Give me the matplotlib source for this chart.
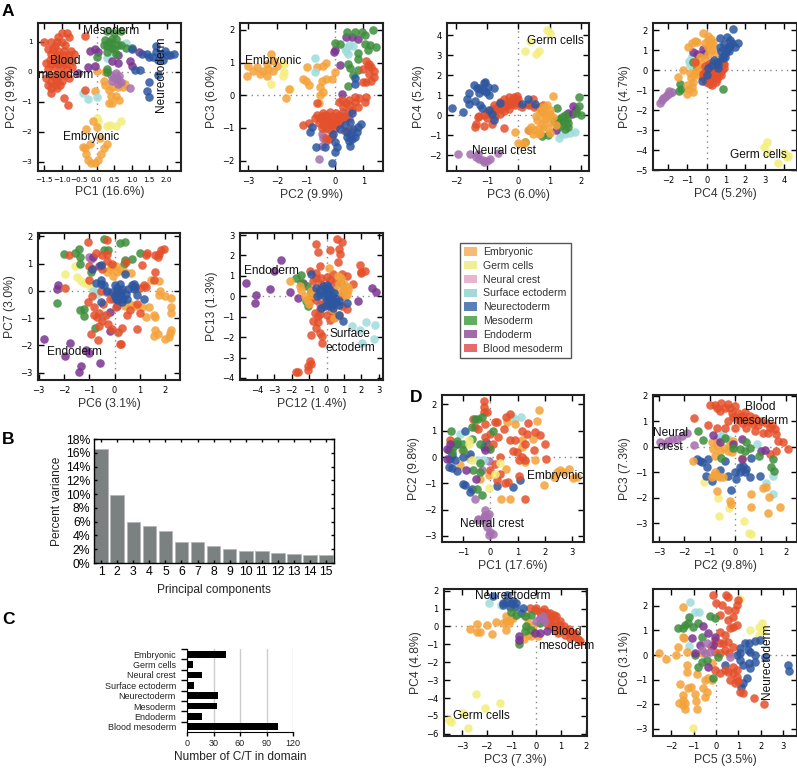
import matplotlib
matplotlib.use('Agg')
import matplotlib.pyplot as plt
from matplotlib.patches import Patch
import numpy as np

plt.rcParams['font.family'] = ['Liberation Sans', 'DejaVu Sans']

W, H = 797, 770

# scatter colours
EMB = '#f4a33a'; GER = '#f4ee7c'; NEU = '#a56fb0'; SUR = '#9fdcdc'
NEC = '#2d56a0'; MES = '#3d8e3c'; END = '#7a3590'; BLO = '#e4502b'

# ---- panel A, PC1 / PC2
A1_EMB = [(0.02,0.03),(0.2,-0.3),(0.25,-0.45),(0.35,-0.6),(0.45,-0.5),(0.6,-0.5),(0.75,-0.5),(0.8,-0.4),(0.4,-0.8),(0.55,-0.8),(0.35,-1.05),(0.45,-1.05),(0.65,-0.95),(-0.05,-0.65),(-0.1,-1.65),(-0.3,-1.9),(0.0,-1.85),(-0.4,-2.5),(-0.35,-2.55),(-0.3,-2.75),(-0.25,-2.95),(-0.15,-3.05),(-0.05,-3.05),(0.05,-2.95),(0.12,-2.75),(0.2,-2.55),(0.3,-2.4),(-0.2,-2.4),(0.1,-2.2),(0.25,0.0)]
A1_GER = [(0,-1.55),(0.28,-1.8),(0.38,-1.78),(0.55,-1.8),(0.68,-1.65),(0.05,-1.65)]
A1_NEU = [(0.4,-0.1),(0.5,-0.2),(0.6,-0.25),(0.65,-0.15),(0.55,-0.05),(0.45,-0.3),(0.7,-0.35),(0.95,-0.55),(0.6,-0.4)]
A1_SUR = [(-0.4,-0.7),(-0.25,-0.92),(0,-0.85),(0.85,0.95),(0.3,0.45),(0.4,0.65)]
A1_NEC = [(1.0,0.75),(1.3,0.6),(1.45,0.6),(1.6,0.5),(1.7,0.65),(1.7,0.85),(1.5,0.5),(1.85,0.6),(2.0,0.55),(2.1,0.55),(2.2,0.6),(1.9,0.4),(1.95,0.7),(1.75,0.4),(1.1,0.05),(1.25,0.05),(1.5,-0.35),(1.45,-0.65),(1.5,-0.85),(1.75,-0.1)]
A1_MES = [(0.3,1.35),(0.5,1.3),(0.7,1.35),(0.25,1.05),(0.35,1.0),(0.45,1.1),(0.55,1.1),(0.3,0.85),(0.45,0.8),(0.6,0.9),(0.7,0.9),(0.85,0.8),(1.0,0.8),(0.3,0.65),(0.55,0.6),(0.3,0.1),(0.02,0.5),(0.3,0.0),(0.4,0.95),(0.5,0.75),(0.2,0.9)]
A1_END = [(-0.05,0.75),(0.05,0.65),(-0.2,0.7),(-0.55,-0.05),(-0.25,0.15),(-0.05,0.2),(0.45,0.35),(0.6,0.3),(0.95,0.35),(1.02,0.2),(1.2,0.65),(0.6,0.55)]
A1_BLO = [(-1.52,1.0),(-1.3,1.0),(-1.1,1.15),(-1.0,1.3),(-0.85,1.3),(-0.8,1.15),(-1.0,1.0),(-0.9,0.9),(-1.2,0.85),(-1.4,0.75),(-1.3,0.6),(-1.1,0.7),(-0.95,0.7),(-0.75,0.7),(-0.65,0.6),(-1.45,0.3),(-1.35,0.4),(-1.2,0.35),(-1.05,0.45),(-0.85,0.4),(-0.7,0.35),(-0.7,0.15),(-1.4,0.1),(-1.2,0.15),(-1.0,0.2),(-0.85,0.1),(-1.35,-0.1),(-1.45,-0.2),(-1.2,-0.1),(-1.05,-0.05),(-0.9,-0.1),(-1.3,-0.35),(-1.15,-0.3),(-1.0,-0.3),(-1.4,-0.45),(-1.3,-0.55),(-1.05,-0.45),(-1.3,-0.7),(-0.95,-0.88),(-0.82,-1.1),(-0.35,1.18),(-0.35,-0.62),(-1.15,1.0),(-1.25,0.75),(-1.15,0.55),(-0.95,0.55),(-0.8,0.55),(-1.3,0.25),(-1.1,0.25),(-0.9,0.25),(-1.2,-0.2),(-1.1,-0.15),(-1.2,-0.45),(-1.15,-0.55),(-0.8,-0.2)]

# ---- PC2 / PC3
A2_EMB = [(-3.05,0.6),(-3.0,0.9),(-2.85,0.75),(-2.7,0.85),(-2.6,0.65),(-2.5,0.75),(-2.35,0.6),(-2.3,0.8),(-2.2,1.25),(-2.1,1.05),(-2.0,0.9),(-2.15,0.75),(-2.35,0.95),(-1.6,0.2),(-1.7,-0.1),(-1.1,0.5),(-1.0,0.45),(-0.95,0.85),(-0.9,0.3),(-0.6,0.85),(-0.4,0.9),(-0.3,1.0),(-0.45,0.45),(-0.5,0.25),(-0.4,0.1),(-0.5,0),(-0.3,0.5),(-0.1,0.5),(0,0.7),(-0.55,-0.25)]
A2_GER = [(-1.8,1.0),(-1.8,0.6),(-2.2,0.35),(-1.75,0.7),(-1.55,0.2),(-1.75,0.95)]
A2_NEU = [(-0.4,-1.3),(-0.45,-1.2),(-0.55,-1.95),(-0.3,-1.4),(-0.45,-1.55),(0.3,-0.5),(0.25,-0.7),(0.1,-0.9),(0.5,-0.7)]
A2_SUR = [(-0.7,1.15),(-0.7,0.7),(0.35,1.45),(0.4,1.35),(0.45,1.25),(0.5,1.55),(0.65,1.5)]
A2_NEC = [(-0.85,-1.12),(-0.8,-0.97),(-0.65,-1.58),(-0.33,-1.58),(0,-1.43),(-0.05,-1.2),(0.07,-1.58),(0,-1.73),(-0.09,-2.07),(0.53,-1.56),(0.18,-1.02),(0.36,-0.92),(0.53,-0.82),(0.65,-1.02),(0.82,-0.97),(0.9,-0.89),(0.42,-1.27),(0.53,-1.22),(0.7,-1.27),(0.6,-0.54),(0.7,0.54),(0.7,0.34),(0.42,-1.12),(0.76,-1.12),(0.6,-1.35),(0.5,-1.4)]
A2_MES = [(0.44,1.94),(0.7,1.94),(0.94,1.92),(1.05,1.84),(1.32,2.0),(0,1.6),(0.18,1.58),(1.05,1.58),(1.23,1.53),(1.43,1.48),(1.17,1.38),(0.82,1.3),(0.82,1.12),(0.47,0.97),(0.53,0.82),(0.82,0.77),(0.62,0.61),(0.47,0.28)]
A2_END = [(0,1.38),(-0.02,1.33),(0.18,0.92),(0.38,1.77),(0.59,1.77),(0.82,1.73),(0.27,0.05)]
A2_BLO = [(1.0,0.8),(1.15,0.9),(1.25,0.85),(1.35,0.75),(1.2,0.65),(1.35,0.55),(1.25,0.45),(1.0,0.4),(1.1,0.4),(1.1,1.05),(0.15,-0.2),(0.25,-0.15),(0.4,-0.25),(0.55,-0.3),(0.7,-0.2),(0.85,-0.1),(1.1,-0.05),(1.05,-0.2),(0.8,-0.35),(0.6,-0.45),(0.45,-0.5),(-0.6,-0.25),(0.3,-0.35),(-0.7,-0.7),(-0.6,-0.6),(-0.5,-0.7),(-0.4,-0.55),(-0.3,-0.6),(-0.15,-0.5),(-0.1,-0.65),(0.05,-0.55),(0.15,-0.6),(0.3,-0.65),(0.4,-0.7),(-0.55,-0.85),(-0.4,-0.8),(-0.25,-0.8),(-0.1,-0.85),(0.05,-0.8),(0.2,-0.85),(-1.1,-0.9),(-0.9,-0.85),(-0.45,-1.0),(-0.3,-1.0),(-0.15,-1.05),(0.0,-1.0),(-0.3,-1.3),(-0.2,-1.35),(-0.1,-1.25),(0.35,-1.1),(0.55,-1.05),(-0.45,-0.65),(-0.25,-0.7),(-0.05,-0.72),(0.12,-0.72),(-0.4,-0.92),(-0.2,-0.92),(-0.05,-0.92),(0.7,-0.05),(0.5,-0.15),(1.2,0.95)]

# ---- PC3 / PC4
A3_EMB = [(1.1,0.95),(0.9,0.5),(0.7,0.2),(0.8,0.05),(1.0,0.05),(0.6,-0.25),(0.85,-0.2),(1.0,-0.35),(1.1,-0.1),(0.65,-0.65),(0.8,-0.6),(0.95,-0.65),(0.3,-0.75),(0.5,-0.75),(0.45,-0.95),(-0.1,-0.85),(0.0,-1.4),(0.15,-1.45),(0.2,-1.35),(0.7,-0.9),(1.2,-0.5),(0.85,0.35),(0.55,-0.05),(0.75,0.4),(1.0,0.25),(0.9,-0.05),(0.75,-0.4),(0.65,-0.95),(1.0,-0.9),(0.4,-0.6)]
A3_GER = [(0.9,4.25),(1.0,4.1),(0.37,3.7),(0.2,3.2),(0.55,3.05),(0.67,3.2)]
A3_NEU = [(-1.95,-1.93),(-1.55,-1.92),(-1.35,-2.1),(-1.25,-2.2),(-1.1,-2.35),(-0.9,-2.2),(-1.3,-1.95),(-1.15,-2.25),(-0.65,-1.9),(-1.0,-2.3)]
A3_SUR = [(1.3,-1.15),(1.5,-0.95),(1.65,-0.9),(1.8,-0.85),(1.35,-0.95)]
A3_NEC = [(-2.13,0.37),(-1.78,0.17),(-1.6,0.58),(-1.65,0.8),(-1.57,1.08),(-1.41,1.5),(-1.33,1.33),(-1.28,1.08),(-1.38,0.72),(-1.06,1.67),(-0.99,1.38),(-0.78,1.33),(-0.96,1.0),(-1.22,0.5),(-1.17,0.38),(-0.96,0.25),(-0.85,0.08),(-0.8,-0.25),(-0.59,0.62),(0.32,0.83),(0.1,0.58),(0.53,0.58),(-1.12,1.58),(-1.28,1.33),(-1.15,1.25),(-1.05,1.15)]
A3_MES = [(1.25,0.35),(1.95,0.9),(1.95,0.45),(2.0,0.0),(1.85,0.1),(1.5,0.0),(1.4,-0.1),(1.25,-0.45),(1.45,-0.3),(1.55,-0.2),(1.35,-0.55),(1.6,-0.6),(1.5,-0.7),(1.15,-0.3),(0.2,-1.35),(0.75,-1.05),(0.3,0.55),(0.95,-1.0),(1.3,-0.2),(1.6,-0.4)]
A3_END = [(1.75,0.45),(1.85,0.3),(1.7,0.05),(1.2,-0.75),(1.3,-0.35),(1.6,0.1),(0.35,-0.75)]
A3_BLO = [(-1.25,-0.05),(-1.0,0.15),(-0.85,0.3),(-0.8,0.5),(-0.65,0.45),(-0.5,0.6),(-0.45,0.8),(-0.3,0.9),(-0.15,0.9),(-0.05,0.95),(0.0,0.8),(-0.25,0.7),(-0.35,0.55),(-0.55,0.3),(-0.75,0.2),(-0.6,0.05),(-0.3,0.3),(-0.1,0.5),(0.1,0.4),(-1.35,-0.45),(-1.4,-0.6),(-1.1,-0.55),(-0.85,-0.45),(-0.45,-0.65),(-1.0,-0.15),(0.45,0.8),(0.8,0.5),(0.35,0.5),(0.75,0.2),(0.5,0.4),(-0.6,0.65),(-0.4,0.45),(-0.2,0.55),(-0.45,0.2),(-0.15,0.7),(-0.7,0.35),(-1.1,0.0),(-0.9,0.05),(-0.75,-0.05),(-1.3,-0.1),(0.0,0.6),(0.65,0.4)]

# ---- PC4 / PC5
A4_EMB = [(-0.17,1.83),(0.09,1.7),(-0.6,1.47),(-0.95,1.17),(0.34,1.42),(-0.34,0.67),(0.26,1.0),(0.43,0.83),(-1.2,0),(-1.47,-0.37),(-0.86,-0.17),(-1.03,-0.75),(-0.78,-0.83),(-1.03,-1.2),(-0.69,-0.58),(-0.47,-0.25),(-0.34,0.17),(-0.6,0.42),(-0.09,1.33),(0.09,1.17),(-0.69,-1.08),(-0.75,1.35),(-0.5,1.4),(0.05,1.5),(0.2,1.55),(0.3,1.25),(0.05,0.8),(-0.1,0.55),(-0.55,-0.05),(-0.8,-0.4),(-0.9,-0.95),(-0.65,-0.2),(-0.45,0.35),(-0.35,-0.1)]
A4_GER = [(3.1,-3.58),(2.97,-3.83),(3.19,-4.17),(3.67,-4.63),(4.02,-4.13),(4.22,-4.28),(4.14,-4.33)]
A4_NEU = [(-2.41,-1.63),(-2.24,-1.42),(-2.07,-1.25),(-1.9,-1.13),(-2.15,-1.33),(-1.81,-1.08),(-2.33,-1.5),(-2.0,-1.18),(-1.95,-1.05)]
A4_SUR = [(-0.9,0.45),(-0.85,0.25),(-0.75,0.7),(-0.6,0.2)]
A4_NEC = [(1.38,2.03),(0.69,1.58),(1.07,1.63),(1.29,1.33),(1.64,1.37),(1.47,1.17),(1.12,1.17),(0.69,1.17),(0.95,0.83),(0.78,0.67),(0.52,0.42),(0.26,0.25),(0.09,0.08),(0.57,0.08),(0,-0.25),(-0.26,-0.53),(0.86,0.58),(1.03,1.0),(1.2,1.5),(0.9,1.3),(1.2,1.2),(0.75,0.95),(0.4,0.5),(0.6,0.3),(0.95,0.65),(1.15,0.95)]
A4_MES = [(-1.4,-0.7),(-1.35,-0.95),(-1.45,-1.05),(-0.7,0.4),(0.85,-0.95),(-0.5,0.1)]
A4_END = [(-0.7,0.9),(-0.2,1.05),(-0.5,0.8),(-0.15,0.8)]
A4_BLO = [(0.0,0),(0.1,-0.3),(0.3,-0.5),(0.5,-0.6),(0.6,-0.3),(0.8,0),(0.9,0.3),(0.7,0.4),(0.5,0.3),(0.3,0.2),(0.1,0.3),(-0.1,-0.1),(-0.2,-0.4),(-0.05,-0.6),(0.15,-0.7),(0.4,-0.2),(0.7,-0.1),(0.9,0.1),(-0.6,0.42),(0.3,-0.75),(0.0,-0.3),(0.25,-0.1),(0.45,0.05),(0.6,0.1),(0.2,0.05),(0.35,-0.35),(0.55,-0.45),(-0.1,0.2),(0.15,-0.5),(0.75,-0.25),(0.85,0.35),(0.05,-0.5),(-0.2,-0.2),(0.5,-0.15),(0.3,0.4),(0.7,0.2)]

# ---- PC6 / PC7
A5_EMB = [(-0.2,0.8),(-0.1,0.9),(0.05,0.9),(0.1,0.7),(-0.3,0.7),(-0.05,0.55),(0.2,0.75),(0.4,0.7),(0.65,0.65),(1.45,0.4),(1.75,0.35),(1.8,0.0),(1.75,-0.15),(2.0,-0.2),(2.25,-0.25),(0.8,-0.55),(1.1,-0.6),(1.35,-0.6),(2.25,-0.6),(2.25,-0.8),(1.25,-0.95),(1.6,-0.95),(1.55,-0.9),(2.25,-1.45),(2.2,-1.55),(1.6,-1.45),(1.55,-1.65),(1.7,-1.6),(2.0,-1.75),(2.15,-1.7),(0.4,-0.55),(0.6,-0.5)]
A5_GER = [(-1.95,0.61),(-1.55,0.9),(-1.49,0.51),(-1.32,0.37),(-1.16,0.27),(-0.99,0.17)]
A5_NEU = [(-1.0,1.25),(-0.55,0.9),(-0.35,-0.05),(-0.95,1.15),(-0.05,-0.3)]
A5_SUR = [(-0.85,0.0),(-0.75,-0.05),(-0.5,-0.95),(0.15,-1.55),(-0.7,-0.1),(-0.4,-0.9)]
A5_NEC = [(-0.55,0.95),(-0.9,0.8),(-0.55,0.4),(-0.75,0.3),(-0.55,0.25),(-0.4,0.2),(-0.3,0.0),(-0.55,-0.4),(0.0,0.2),(0.1,0.1),(0.2,0.25),(0.4,0.6),(0.7,0.2),(0.75,0.25),(0.8,0.15),(0.75,0.05),(0.9,-0.15),(1.15,-0.3),(0.0,-0.2),(0.15,-0.05),(0.25,-0.2),(0.35,-0.3),(0.45,-0.1),(0.3,-0.4),(0.15,-0.35),(0.5,-0.3),(-0.1,-0.05),(0.55,0.05),(0.3,0.05),(0.05,-0.3),(0.25,-0.05)]
A5_MES = [(-2.01,1.34),(-1.39,1.55),(-1.55,1.37),(-1.36,1.24),(-1.38,0.98),(-2.28,-0.44),(-1.38,-0.71),(-1.22,-0.65),(-1.22,-0.93),(-0.79,-1.38),(-0.41,1.89),(-0.43,1.49),(-0.24,1.51),(0.2,1.77),(0.43,1.79),(0.42,1.12),(0.68,1.15),(0.36,1.0),(1.01,1.37),(-0.93,0.7)]
A5_END = [(-2.8,-1.77),(-2.25,0.2),(-2.28,0.05),(-1.75,-1.9),(-1.97,-2.39),(-1.12,-2.17),(-1.03,-2.29),(-1.33,-2.76),(-1.42,-2.96),(-0.57,-2.66),(-0.17,-1.46),(-0.17,-0.77),(-0.85,1.25),(-0.6,0.9),(0.1,-0.55)]
A5_BLO = [(-1.05,1.79),(-1.82,1.3),(-1.97,0.12),(-0.3,1.85),(-0.5,1.3),(-0.3,1.35),(-0.75,1.4),(-1.0,0.9),(-0.9,0.8),(-0.5,0.8),(-0.3,1.1),(-0.1,1.0),(1.25,1.3),(1.3,1.4),(1.6,1.3),(1.7,1.25),(1.75,1.35),(1.85,1.5),(1.95,1.55),(1.1,0.95),(0.45,1.05),(1.6,0.7),(1.55,0.4),(1.15,0.2),(1.25,0.15),(1.0,0.1),(-0.55,0.0),(-0.9,-0.2),(-1.05,-0.4),(-0.8,-0.6),(-0.45,-0.5),(-0.6,-0.8),(-0.7,-0.95),(-0.5,-1.1),(-0.6,-1.3),(-0.35,-0.9),(-0.25,-1.2),(-0.1,-1.4),(-0.95,-1.6),(-0.65,-1.8),(0.2,-1.95),(0.25,-1.95),(0.3,-1.35),(0.15,-1.5),(0.9,-1.4),(-0.8,-0.9),(0.6,-0.7),(0.9,-0.5),(1.0,-0.8),(0.05,-0.6),(-0.2,-0.3),(0.0,-0.1),(-1.0,0.4),(0.5,-0.9)]

# ---- PC12 / PC13
A6_EMB = [(-2.12,0.75),(0.15,1.38),(0.8,0.9),(0.65,1.0),(1.0,0.6),(1.25,0.45),(1.25,0.3),(1.2,0.1),(1.1,0),(0.9,0.2),(-1.5,0.5),(-1.45,0.3),(-1.25,0.0),(-1.15,-0.2),(-0.9,0.25),(0.7,0.6),(0.5,0.3),(0.3,-0.6),(0.7,-0.9),(0.4,-1.05),(-1.0,-0.4),(-0.8,0.05),(1.0,0.35)]
A6_NEU = [(0.35,0.35),(0.05,0.1),(-0.4,-0.4)]
A6_SUR = [(1.48,-1.46),(1.92,-1.66),(2.25,-1.26),(2.79,-1.43),(2.73,-2.11),(2.06,-2.28)]
A6_NEC = [(-0.87,1.08),(0.0,0.55),(0.2,0.3),(-0.6,0.4),(-0.4,0.3),(-0.55,0.0),(-0.2,0.5),(0,0.2),(-0.15,0),(0.1,-0.05),(0.3,0),(0.5,-0.1),(0.05,-0.2),(0.2,-0.3),(0.35,-0.25),(0.55,-0.3),(0.7,-0.25),(-0.3,-0.55),(-0.1,-0.5),(0.15,-0.5),(0.35,-0.55),(0.7,-0.45),(1.2,-0.35),(0.95,-1.2),(0.7,-0.9),(0.3,-0.45),(-0.05,0.35),(0.1,0.45),(0.4,0.15),(-0.35,0.1)]
A6_MES = [(-1.73,0.89),(-1.48,1.03),(-1.45,0.65),(-1.15,0.5),(-1.2,-0.25),(-1.05,-0.5),(0.8,0.65),(-0.9,0.2)]
A6_END = [(-4.65,0.67),(-4.08,0.07),(-4.1,-0.31),(-3.27,0.38),(-3.04,1.25),(-2.6,1.79),(-2.12,0.21),(-1.63,-0.1),(-1.35,0.67),(1.83,-0.23),(2.63,0.39),(2.83,0.21)]
A6_BLO = [(-0.62,2.56),(-0.48,2.15),(0.19,2.28),(0.58,2.8),(0.87,2.64),(0.73,2.31),(0.77,2.07),(0.63,1.66),(1.92,1.52),(2.21,1.25),(1.96,1.13),(1.54,0.59),(-0.38,1.49),(-0.96,1.25),(-0.58,1.13),(0.38,1.08),(1.15,0.97),(0.87,1.08),(2.0,1.2),(-0.77,-1.21),(-0.48,-1.26),(-0.87,-1.92),(-0.38,-1.79),(-0.29,-2.28),(-0.96,-3.15),(-0.87,-3.31),(-1.06,-3.43),(-1.06,-3.62),(-1.77,-3.7),(-1.63,-3.72),(-0.67,-0.8),(-0.38,-0.89),(-0.58,-1.54),(-0.29,-1.95),(-0.6,0.9),(-0.3,0.6),(-0.8,0.3),(-0.6,-0.2),(-0.2,-0.4),(0,-0.9),(0.3,-0.7),(0.5,-1.0),(-0.3,0.9),(0.2,0.8),(1.2,-0.6),(1.0,0.3),(-0.9,-0.1),(-0.4,-0.6),(0.2,-1.15),(0.9,-0.5),(-0.8,0.75),(-1.0,-0.3),(0.0,0.95),(0.5,0.7),(-0.5,-0.95),(0.9,0.0)]

# ---- panel D, PC1 / PC2
D1_EMB = [(1.77,1.8),(1.73,1.37),(1.55,0.67),(1.16,0.63),(1.18,0.38),(0.61,1.35),(1.65,-0.13),(1.28,-0.19),(2.32,-0.76),(2.56,-0.48),(2.68,-0.57),(2.87,-0.44),(3.01,-0.78),(3.17,-0.76),(1.98,-1.08),(0.4,-1.61),(0.73,-1.61),(0.59,-0.47),(-1.1,-0.32),(-1.04,0.28),(-0.06,-0.7),(-0.37,-0.82),(-0.73,0),(0.91,1.27),(2.44,-0.57)]
D1_GER = [(-0.06,-1.18),(-0.79,0.51),(-0.76,0.66),(-0.67,-0.13),(0.18,-0.63),(0.37,-0.22)]
D1_NEU = [(-0.55,-1.58),(-0.18,-2.0),(-0.06,-2.15),(-0.24,-2.28),(-0.43,-2.34),(-0.1,-2.28),(-0.46,-2.38),(-0.3,-2.38),(-0.12,-2.38),(-0.12,-2.66),(0,-2.85),(0.12,-2.94),(-0.06,-2.97),(-0.18,-2.2),(-0.05,-0.15),(-0.3,-0.5)]
D1_SUR = [(0.91,1.46),(1.12,1.54),(0.79,1.58),(-1.12,0.86),(-0.43,-0.13),(-0.24,-0.13),(-0.73,-0.06)]
D1_NEC = [(-1.46,-0.06),(-1.52,-0.38),(-1.4,-0.41),(-1.28,-0.13),(-1.2,-0.53),(-0.98,-1.04),(-0.91,-1.08),(-0.67,-1.2),(-0.73,-1.33),(0.24,-1.11),(0.85,-1.14),(1.1,-0.86),(-0.91,0.99),(-0.15,0.57),(-0.73,0.13),(-0.98,0),(-1.4,0.06),(-1.52,0.25),(-1.22,0.5),(-0.24,0.38)]
D1_MES = [(-1.44,0.99),(-1.22,0.61),(-1.34,0.38),(-1.4,0.2),(-0.55,1.46),(-0.3,1.54),(-0.43,1.46),(-0.67,1.14),(-0.67,0.7),(-0.37,0.5),(0,0.32),(0.12,1.01),(-0.63,-0.5),(-0.37,-0.57),(-0.49,-1.2),(-0.3,-1.46),(-0.98,0.25),(-0.37,-0.23),(-0.98,0.5)]
D1_END = [(-1.56,0.29),(-1.59,-0.09),(-0.89,-0.5),(-0.51,-0.82),(-0.18,0.25),(-1.46,0.5)]
D1_BLO = [(-0.22,2.13),(-0.21,1.9),(-0.24,1.71),(-0.12,1.71),(-0.61,1.46),(-0.55,1.14),(-0.43,1.08),(-0.18,1.27),(0.18,1.33),(0.59,1.54),(0.73,1.65),(1.4,1.29),(1.16,1.01),(1.34,0.89),(1.65,0.97),(1.83,0.82),(2.0,0.51),(1.61,0.25),(1.28,0.5),(0.91,0.63),(0.73,0.66),(0.85,0.23),(0.98,0.19),(1.16,0),(1.04,-0.13),(1.28,-0.13),(2.04,-0.06),(0.3,0.76),(0,0.89),(-0.18,0.76),(0.37,0),(0.18,-0.25),(0,-0.51),(0.37,-0.63),(0.55,-0.97),(0.67,-0.95),(0.24,-0.89),(1.06,-0.73),(1.26,-1.58),(-1.46,0.66),(-0.06,0.38),(0.49,1.08),(0.12,0.51),(0.24,1.33)]

# ---- PC2 / PC3
D2_EMB = [(-1.65,-0.58),(-0.93,0.16),(-0.86,-0.1),(-0.8,-0.36),(-0.6,-0.17),(-0.21,0.09),(-0.14,-0.23),(0.25,-0.43),(-0.8,-1.01),(-0.67,-1.14),(-0.93,-1.21),(-0.47,-1.21),(-0.73,-1.75),(-0.21,-2.14),(-0.18,-2.27),(0.64,-1.86),(1.1,-1.62),(1.23,-1.6),(1.33,-1.96),(0.64,-2.38),(1.29,-2.6),(1.78,-2.35),(-0.27,-0.17),(-0.08,0.22),(-0.7,0.05),(-0.45,-0.05),(-0.85,-1.1),(-0.6,-1.2)]
D2_GER = [(-1.23,-1.4),(-0.69,-2.01),(-0.24,-2.42),(-0.63,-2.73),(0.35,-2.92),(0.55,-3.38),(0.64,-3.44)]
D2_NEU = [(-2.95,0.16),(-2.76,0.09),(-2.5,0.29),(-2.3,0.29),(-2.1,0.42),(-1.91,0.55),(-2.63,0.22),(-1.61,0.06),(-0.7,0.3)]
D2_SUR = [(-0.47,0.48),(-0.27,0.29),(0.84,0.09),(1.23,-1.43),(1.49,-1.14),(1.49,-1.86),(-0.54,0.42)]
D2_NEC = [(-1.52,-0.49),(-1.32,-0.62),(-1.06,-0.49),(-1.12,-0.82),(-1.15,-1.14),(-0.93,-1.34),(-0.6,-0.92),(-0.41,-0.56),(-0.27,-1.14),(0,-1.01),(0.05,-1.27),(0.18,-1.01),(0.31,-0.75),(0.44,-0.88),(0.58,-1.18),(0.64,-0.43),(0.97,-1.17),(-0.18,-1.7),(0.18,-0.82),(0.38,-1.01),(-1.38,-0.56)]
D2_MES = [(-1.48,0.61),(-1.25,0.25),(-0.41,0.35),(0.44,0.16),(0.18,-0.1),(0.38,-0.17),(0.58,-0.04),(0.94,-0.36),(1.49,-0.49),(1.42,-0.79),(1.53,-0.95),(-0.54,-0.43),(-0.08,-0.04)]
D2_END = [(-0.86,0.45),(-0.6,0.16),(-0.08,0.09),(0.25,0.29),(1.03,-0.17),(1.16,-0.14),(0.25,-0.49)]
D2_BLO = [(-0.99,1.62),(-0.8,1.62),(-0.54,1.71),(-0.27,1.65),(0,1.58),(-0.4,1.52),(-0.6,1.39),(-0.14,1.32),(0.12,1.32),(0.31,1.19),(0.58,1.19),(0.77,1.13),(1.03,1.0),(1.23,0.94),(1.56,0.68),(1.62,0.48),(1.88,0.19),(2.08,-0.1),(1.62,-0.19),(1.36,-0.3),(-1.61,1.13),(-1.06,0.84),(-0.73,0.74),(-0.41,0.74),(0,0.74),(0.44,0.74),(0.77,0.61),(1.1,0.55),(0.71,0.87),(0.44,1.0),(0.25,0.94),(1.36,0.74),(1.69,0.22),(-0.7,1.5),(-0.2,1.5),(0.1,1.05),(0.4,1.35),(0.6,1.0),(0.9,0.85),(1.3,0.55),(1.45,0.85),(0.2,1.15),(-0.1,1.15),(-0.3,1.0)]

# ---- PC3 / PC4
D3_EMB = [(-2.66,-0.15),(-2.39,0.15),(-2.41,-0.31),(-2.26,-0.31),(-2,0.06),(-1.8,-0.41),(-1.62,0.24),(-1.24,-0.22),(-1.35,0.19),(-1.22,0.56),(-1.08,0.37),(-0.95,0.46),(-1.24,0.28),(-0.41,0.56),(-0.34,0.19),(-0.68,-0.83),(-0.2,-0.56),(0.07,-0.56),(-0.14,0),(0.27,0.28),(-1.1,0.2),(-0.35,-0.5),(-0.5,-0.7)]
D3_GER = [(-2.43,-3.76),(-2.05,-4.54),(-1.45,-4.26),(-2.97,-4.81),(-3.51,-5.24),(-3.42,-5.33),(-2.77,-5.65)]
D3_NEU = [(0.14,0.46),(0.27,0.56),(0,0.28),(0.34,0.28)]
D3_SUR = [(-1.89,1.33),(-1.42,1.2)]
D3_NEC = [(-1.73,1.7),(-1.19,1.76),(-1.22,1.39),(-1.35,1.3),(-1.01,1.3),(-0.88,1.11),(-1.08,1.11),(-0.81,1.33),(-0.54,1.02),(-0.61,0.74),(-0.95,1.44),(-1.35,1.2)]
D3_MES = [(-1.01,0.83),(-0.81,0.65),(-0.47,0.56),(-0.2,0.65),(-0.43,0),(-0.47,-0.28),(-0.2,-0.22),(-0.68,-0.96),(0.14,0.19)]
D3_END = [(-0.68,-0.56),(-0.7,-0.74),(0.41,-0.28),(0.14,-0.37),(-0.07,-0.37)]
D3_BLO = [(-0.27,1.02),(-0.07,0.93),(0.14,0.83),(0.41,0.74),(0.61,0.46),(0.81,0.19),(1.01,-0.09),(1.22,-0.28),(1.49,-0.56),(1.69,-0.7),(1.76,-0.83),(1.35,-0.37),(0.81,0.56),(0.54,0.74),(0.95,0.09),(1.15,-0.46),(0.74,-0.19),(0.47,0.09),(0.27,0.83),(0.61,0),(0.88,-0.37),(1.35,-0.65),(0,1.02),(0.41,0.37),(0.68,0.09),(1.08,-0.19),(1.55,-0.37),(0.2,0.6),(0.55,0.3),(0.95,0.3),(1.1,0.0),(0.3,0.95),(0.7,0.65),(1.3,-0.15),(1.6,-0.6)]

# ---- PC5 / PC6
D4_EMB = [(-1.49,1.95),(-2.53,0.07),(-2.24,-0.18),(-1.78,0),(-1.71,0.31),(-1.28,0.14),(-1.43,0.68),(-1.31,-0.41),(-1.28,-0.68),(-0.86,-0.79),(-1.6,-1.18),(-1.23,-1.36),(-1.13,-1.29),(-0.94,-1.59),(-0.89,-1.86),(-0.83,-2.18),(-1.49,-1.63),(-1.46,-1.84),(-1.63,-1.97),(-1.38,-1.95),(-1.46,-2.04),(-1.38,-2.2),(-0.56,-1.36),(-0.42,-1.5),(-0.49,-1.7),(-0.34,-0.95),(-0.19,-1.02),(-0.49,-1.02),(-0.64,0.07),(-0.19,-0.34),(-1.46,0.75)]
D4_GER = [(1.07,2.27),(2.04,1.29),(1.93,1.16),(1.52,1.02),(2.11,1.02),(1.93,0.82),(-1.04,-2.99)]
D4_NEU = [(-0.64,0.2),(-0.49,0.07),(-0.27,0.14),(0.62,-0.07),(-0.42,0.48)]
D4_SUR = [(-1.16,2.14),(-0.94,1.77),(-0.74,1.74),(-1.19,0.38)]
D4_NEC = [(3.22,-0.41),(3.25,-0.65),(1.96,0.61),(1.74,0.57),(1.29,0.5),(1.49,0.48),(1.07,0.27),(1.52,0.14),(2.19,-0.07),(0.92,0),(1.07,-0.2),(1.22,-0.41),(1.49,-0.34),(1.74,-0.27),(1.74,0),(1.37,-0.95),(1.22,-1.13),(1.14,-1.29),(1.52,-0.54),(0.4,-0.41),(1.44,0.2),(1.07,0.07)]
D4_MES = [(-1.68,1.12),(-1.38,1.22),(-1.19,1.54),(-1.23,1.29),(-1.01,1.16),(-0.82,1.32),(-1.46,1.09),(-0.64,0.75),(-0.94,0),(-0.79,-0.5),(-0.64,-0.27),(0.1,-0.07),(-0.04,1.5),(-0.27,1.59),(-0.12,-0.95),(-0.42,-0.2)]
D4_END = [(-0.56,1.2),(-1.08,0.68),(-0.71,0.41),(-0.34,0.88),(-0.12,0.41),(-0.34,-0.48),(-0.94,0.07),(-0.04,0.75)]
D4_BLO = [(-0.15,2.45),(0.45,2.45),(0.55,2.35),(0,2.11),(0.25,2.04),(0.92,2.04),(1.0,2.24),(0.55,1.84),(0.85,1.84),(0.18,1.63),(0.55,1.43),(0.77,1.56),(0.62,1.09),(0.92,1.22),(0.77,1.16),(0.18,0.95),(0.4,0.82),(-0.04,0.61),(0.18,0.48),(0.55,0.54),(0.77,0.34),(0.4,0.2),(-0.04,0.14),(0.18,0.07),(-0.04,-0.61),(0.18,-0.75),(0.55,-0.68),(0.77,-0.75),(0.92,-0.88),(0.62,-1.02),(0.85,-1.16),(1.07,-1.5),(1.22,-1.56),(1.71,-1.74),(2.15,-2.0),(0.77,-0.48),(0.4,-0.61),(0.3,0.5),(-0.2,0.35),(0.6,0.1),(0.95,-0.6),(1.0,-1.05)]

# bar charts
pc_numbers = list(range(1, 16))
pc_variance = [16.6, 9.9, 6.0, 5.3, 4.7, 3.1, 3.0, 2.4, 2.1, 1.8, 1.7, 1.4, 1.3, 1.2, 1.1]
domains = ['Embryonic', 'Germ cells', 'Neural crest', 'Surface ectoderm',
           'Neurectoderm', 'Mesoderm', 'Endoderm', 'Blood mesoderm']
domain_counts = [44, 7, 17, 8, 35, 34, 17, 103]
legend_colors = ['#f6bb76', '#f2ee98', '#e8b5cf', '#a2dada',
                 '#5a80b8', '#62ad62', '#a26ca8', '#e66c6c']


def make_ax(left, right, top, bottom):
    return fig.add_axes([left / W, 1 - bottom / H, (right - left) / W, (bottom - top) / H])


def scatter_panel(box, xlim, ylim, xticks, yticks, xlabel, ylabel, groups, notes, ticksize=6):
    ax = make_ax(*box)
    ax.axhline(0, color='#888888', lw=1, ls=(0, (1, 3)), zorder=1)
    ax.axvline(0, color='#888888', lw=1, ls=(0, (1, 3)), zorder=1)
    for pts, c in groups:
        pts = np.array(pts)
        ax.scatter(pts[:, 0], pts[:, 1], s=38, c=c, alpha=0.85, linewidths=0, zorder=2)
    ax.set_xlim(xlim)
    ax.set_ylim(ylim)
    ax.set_xticks(xticks)
    ax.set_yticks(yticks)
    ax.tick_params(direction='in', top=True, right=True, length=4, width=1, labelsize=ticksize, pad=4)
    for lab in ax.get_xticklabels() + ax.get_yticklabels():
        lab.set_family('DejaVu Sans')
    for s in ax.spines.values():
        s.set_linewidth(1.5)
        s.set_color('#222222')
    ax.set_xlabel(xlabel, fontsize=8.7, color='#333333', labelpad=2.5)
    ax.set_ylabel(ylabel, fontsize=8.7, color='#333333', labelpad=3)
    for x, y, txt, rot in notes:
        ax.text(x, y, txt, fontsize=8.6, ha='center', va='center', rotation=rot,
                color='#111111', linespacing=1.25, zorder=5)
    return ax


fig = plt.figure(figsize=(W / 100, H / 100), dpi=100)

scatter_panel((38, 181, 23, 171), (-1.68, 2.41), (-3.31, 1.62),
              np.arange(-1.5, 2.5, 0.5), [-3, -2, -1, 0, 1], 'PC1 (16.6%)', 'PC2 (9.9%)',
              [(A1_GER, GER), (A1_EMB, EMB), (A1_NEU, NEU), (A1_SUR, SUR), (A1_END, END), (A1_MES, MES), (A1_BLO, BLO), (A1_NEC, NEC)],
              [(0.41, 1.37, 'Mesoderm', 0), (-0.89, 0.11, 'Blood\nmesoderm', 0),
               (1.83, -0.08, 'Neurectoderm', 90), (-0.15, -2.17, 'Embryonic', 0)], ticksize=5.2)
scatter_panel((240, 383, 23, 171), (-3.29, 1.68), (-2.32, 2.21),
              [-3, -2, -1, 0, 1], [-2, -1, 0, 1, 2], 'PC2 (9.9%)', 'PC3 (6.0%)',
              [(A2_GER, GER), (A2_EMB, EMB), (A2_NEU, NEU), (A2_SUR, SUR), (A2_END, END), (A2_MES, MES), (A2_BLO, BLO), (A2_NEC, NEC)],
              [(-2.13, 1.05, 'Embryonic', 0)])
scatter_panel((447, 589, 23, 171), (-2.29, 2.26), (-2.79, 4.6),
              [-2, -1, 0, 1, 2], [-2, -1, 0, 1, 2, 3, 4], 'PC3 (6.0%)', 'PC4 (5.2%)',
              [(A3_GER, GER), (A3_NEU, NEU), (A3_SUR, SUR), (A3_END, END), (A3_MES, MES), (A3_BLO, BLO), (A3_EMB, EMB), (A3_NEC, NEC)],
              [(1.18, 3.72, 'Germ cells', 0), (-0.45, -1.78, 'Neural crest', 0)])
scatter_panel((653, 797, 23, 170), (-2.78, 4.68), (-5.0, 2.35),
              [-2, -1, 0, 1, 2, 3, 4], [-5, -4, -3, -2, -1, 0, 1, 2], 'PC4 (5.2%)', 'PC5 (4.7%)',
              [(A4_GER, GER), (A4_NEU, NEU), (A4_SUR, SUR), (A4_END, END), (A4_MES, MES), (A4_EMB, EMB), (A4_BLO, BLO), (A4_NEC, NEC)],
              [(2.67, -4.27, 'Germ cells', 0)])
scatter_panel((38, 180, 233, 380), (-3.03, 2.59), (-3.27, 2.12),
              [-3, -2, -1, 0, 1, 2], [-3, -2, -1, 0, 1, 2], 'PC6 (3.1%)', 'PC7 (3.0%)',
              [(A5_GER, GER), (A5_NEU, NEU), (A5_SUR, SUR), (A5_END, END), (A5_MES, MES), (A5_EMB, EMB), (A5_BLO, BLO), (A5_NEC, NEC)],
              [(-1.58, -2.24, 'Endoderm', 0)])
scatter_panel((240, 383, 233, 380), (-4.97, 3.24), (-4.1, 3.1),
              [-4, -3, -2, -1, 0, 1, 2, 3], [-4, -3, -2, -1, 0, 1, 2, 3], 'PC12 (1.4%)', 'PC13 (1.3%)',
              [(A6_NEU, NEU), (A6_SUR, SUR), (A6_END, END), (A6_MES, MES), (A6_BLO, BLO), (A6_EMB, EMB), (A6_NEC, NEC)],
              [(-3.17, 1.25, 'Endoderm', 0), (1.35, -2.2, 'Surface\nectoderm', 0)])
scatter_panel((442, 584, 395, 542), (-1.76, 3.43), (-3.23, 2.36),
              [-1, 0, 1, 2, 3], [-3, -2, -1, 0, 1, 2], 'PC1 (17.6%)', 'PC2 (9.8%)',
              [(D1_NEU, NEU), (D1_SUR, SUR), (D1_EMB, EMB), (D1_NEC, NEC), (D1_BLO, BLO), (D1_MES, MES), (D1_END, END), (D1_GER, GER)],
              [(2.38, -0.73, 'Embryonic', 0), (0.06, -2.54, 'Neural crest', 0)])
scatter_panel((653, 797, 395, 542), (-3.23, 2.43), (-3.74, 2.02),
              [-3, -2, -1, 0, 1, 2], [-3, -2, -1, 0, 1, 2], 'PC2 (9.8%)', 'PC3 (7.3%)',
              [(D2_GER, GER), (D2_NEU, NEU), (D2_SUR, SUR), (D2_NEC, NEC), (D2_EMB, EMB), (D2_BLO, BLO), (D2_END, END), (D2_MES, MES)],
              [(1.0, 1.29, 'Blood\nmesoderm', 0), (-2.54, 0.25, 'Neural\ncrest', 0)])
scatter_panel((444, 587, 589, 736), (-3.72, 2.04), (-6.12, 2.09),
              [-3, -2, -1, 0, 1, 2], [-6, -5, -4, -3, -2, -1, 0, 1, 2], 'PC3 (7.3%)', 'PC4 (4.8%)',
              [(D3_GER, GER), (D3_SUR, SUR), (D3_EMB, EMB), (D3_BLO, BLO), (D3_NEC, NEC), (D3_MES, MES), (D3_END, END), (D3_NEU, NEU)],
              [(-0.95, 1.7, 'Neurectoderm', 0), (1.22, -0.7, 'Blood\nmesoderm', 0), (-2.23, -5.0, 'Germ cells', 0)])
scatter_panel((653, 797, 589, 736), (-2.81, 3.62), (-3.3, 2.69),
              [-2, -1, 0, 1, 2, 3], [-3, -2, -1, 0, 1, 2], 'PC5 (3.5%)', 'PC6 (3.1%)',
              [(D4_GER, GER), (D4_SUR, SUR), (D4_EMB, EMB), (D4_NEC, NEC), (D4_BLO, BLO), (D4_MES, MES), (D4_END, END), (D4_NEU, NEU)],
              [(2.3, -0.27, 'Neurectoderm', 90)])

# B: explained variance
ax_b = make_ax(94, 334, 439, 563)
ax_b.bar(pc_numbers, pc_variance, width=0.85, color='#7b8080', edgecolor='#b4b8b8', linewidth=0.6)
ax_b.set_xlim(0.55, 15.5)
ax_b.set_ylim(0, 18)
ax_b.set_xticks(pc_numbers)
ax_b.set_yticks(range(0, 20, 2))
ax_b.set_yticklabels(['%d%%' % v for v in range(0, 20, 2)])
ax_b.tick_params(direction='in', top=True, right=True, length=2.5, width=1, labelsize=8.8, pad=2.5)
for s in ax_b.spines.values():
    s.set_linewidth(1)
ax_b.set_xlabel('Principal components', fontsize=8.6, color='#222222', labelpad=4)
ax_b.set_ylabel('Percent variance', fontsize=8.6, color='#222222', labelpad=2)

# C: counts per domain
ax_c = make_ax(187, 293, 649, 732)
y_pos = np.arange(len(domains))
ax_c.barh(y_pos, domain_counts, height=0.66, color='black', zorder=3)
ax_c.set_xlim(0, 120)
ax_c.set_ylim(7.5, -0.5)
ax_c.set_yticks(y_pos - 0.5)
ax_c.set_yticklabels([])
ax_c.set_yticks(y_pos, minor=True)
ax_c.set_yticklabels(domains, minor=True, fontsize=6.5, color='#222222')
ax_c.tick_params(axis='y', which='major', length=4, width=1, direction='out')
ax_c.tick_params(axis='y', which='minor', length=0, pad=8)
ax_c.set_xticks([0, 30, 60, 90, 120])
ax_c.tick_params(axis='x', length=3, width=1, labelsize=6.5, pad=2, labelcolor='#222222')
ax_c.grid(axis='x', color='#cccccc', lw=1, zorder=0)
ax_c.spines['top'].set_visible(False)
ax_c.spines['right'].set_visible(False)
ax_c.set_xlabel('Number of C/T in domain', fontsize=8.6, color='#222222', labelpad=2)

# shared legend
handles = [Patch(facecolor=c, edgecolor='none', label=n) for c, n in zip(legend_colors, domains)]
fig.legend(handles=handles, loc='upper left', bbox_to_anchor=(460 / W, 1 - 243 / H),
           bbox_transform=fig.transFigure, fontsize=7.6, frameon=True, fancybox=False,
           edgecolor='#555555', framealpha=1, borderaxespad=0, borderpad=0.38,
           labelspacing=0.36, handlelength=1.26, handleheight=0.85, handletextpad=0.55,
           labelcolor='#333333')

# panel letters
for letter, x, y in [('A', 2, 12), ('B', 2, 440), ('C', 2, 619), ('D', 410, 398)]:
    fig.text(x / W, 1 - y / H, letter, fontsize=12.5, fontweight='bold', va='center', ha='left')

fig.savefig('out.png', dpi=100)
